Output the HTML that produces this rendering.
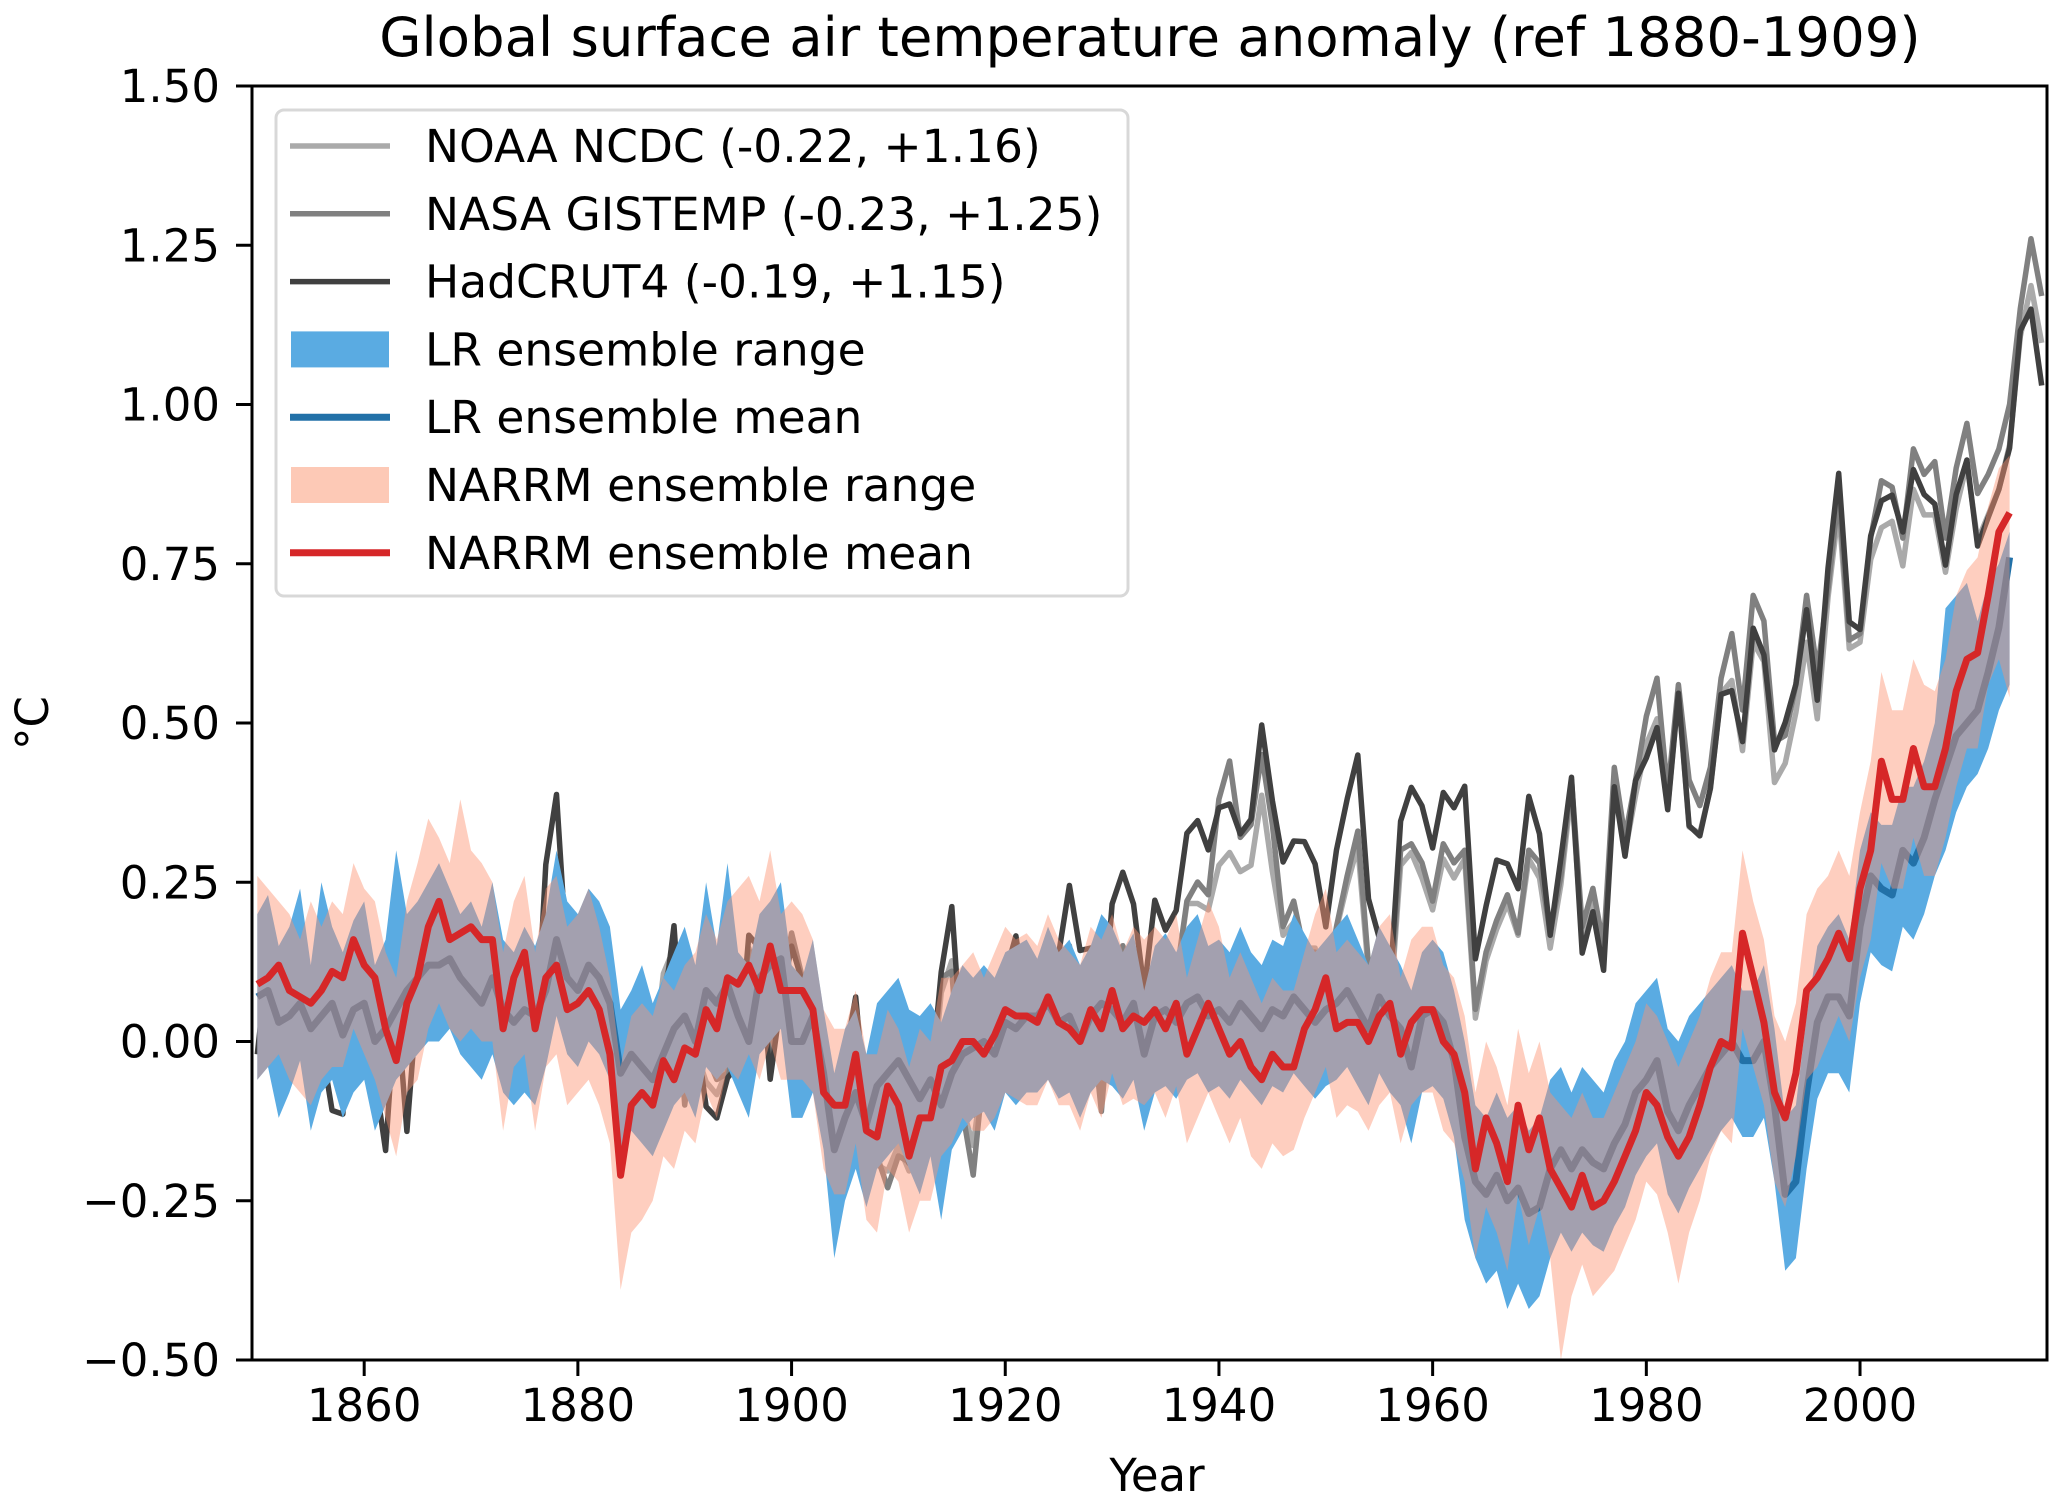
<!DOCTYPE html>
<html><head><meta charset="utf-8">
<style>
html,body{margin:0;padding:0;background:#fff;}
svg{display:block;font-family:"DejaVu Sans","Liberation Sans",sans-serif;}
</style></head>
<body>
<svg id="chart" xmlns="http://www.w3.org/2000/svg" width="2067" height="1508" viewBox="0 0 2067 1508">
<rect x="0" y="0" width="2067" height="1508" fill="#fff"/>
<text x="1150" y="56" font-size="54.5" text-anchor="middle" fill="#000">Global surface air temperature anomaly (ref 1880-1909)</text>
<g id="plot"></g>
<g id="axes"></g>
<text x="1157" y="1491" font-size="45" text-anchor="middle" fill="#000">Year</text>
<text x="0" y="0" font-size="45" text-anchor="middle" fill="#000" transform="translate(48,723) rotate(-90)">°C</text>
<g id="legend"></g>
</svg>
<script>
const hadStart = 1850;
const hadRaw = [-0.373,-0.218,-0.228,-0.269,-0.248,-0.272,-0.358,-0.461,-0.467,-0.284,
-0.343,-0.407,-0.524,-0.278,-0.494,-0.279,-0.251,-0.321,-0.238,-0.262,
-0.276,-0.335,-0.227,-0.304,-0.368,-0.395,-0.384,-0.075,0.035,-0.230,
-0.227,-0.200,-0.213,-0.296,-0.409,-0.389,-0.367,-0.418,-0.307,-0.171,
-0.416,-0.330,-0.455,-0.473,-0.410,-0.390,-0.186,-0.206,-0.412,-0.289,
-0.203,-0.259,-0.402,-0.479,-0.520,-0.377,-0.283,-0.465,-0.511,-0.522,
-0.490,-0.544,-0.437,-0.424,-0.244,-0.141,-0.383,-0.468,-0.333,-0.275,
-0.247,-0.187,-0.302,-0.276,-0.294,-0.215,-0.108,-0.210,-0.206,-0.350,
-0.137,-0.087,-0.137,-0.273,-0.131,-0.178,-0.147,-0.026,-0.006,-0.052,
0.014,0.020,-0.027,-0.004,0.144,0.025,-0.071,-0.038,-0.039,-0.074,
-0.173,-0.052,0.028,0.097,-0.129,-0.190,-0.267,-0.007,0.046,0.017,
-0.049,0.038,0.014,0.048,-0.223,-0.140,-0.068,-0.074,-0.113,0.032,
-0.027,-0.186,-0.065,0.062,-0.214,-0.149,-0.241,0.047,-0.062,0.057,
0.092,0.140,0.011,0.194,-0.014,-0.030,0.045,0.192,0.198,0.118,
0.296,0.254,0.105,0.148,0.208,0.325,0.183,0.390,0.539,0.306,
0.294,0.441,0.496,0.505,0.447,0.545,0.506,0.491,0.395,0.506,
0.560,0.425,0.470,0.514,0.579,0.763,0.797,0.677];
const obsStart = 1880;
const gissRaw = [-0.16,-0.08,-0.10,-0.16,-0.28,-0.33,-0.31,-0.36,-0.17,-0.10,
-0.35,-0.22,-0.27,-0.31,-0.30,-0.22,-0.11,-0.11,-0.27,-0.17,
-0.08,-0.15,-0.28,-0.37,-0.47,-0.26,-0.22,-0.39,-0.43,-0.48,
-0.43,-0.44,-0.36,-0.34,-0.15,-0.14,-0.36,-0.46,-0.29,-0.27,
-0.27,-0.19,-0.28,-0.26,-0.27,-0.22,-0.10,-0.22,-0.20,-0.36,
-0.16,-0.10,-0.16,-0.29,-0.13,-0.20,-0.15,-0.03,0.00,-0.02,
0.13,0.19,0.07,0.09,0.20,0.09,-0.07,-0.03,-0.11,-0.11,
-0.17,-0.07,0.01,0.08,-0.13,-0.14,-0.19,0.05,0.06,0.03,
-0.03,0.06,0.03,0.05,-0.20,-0.11,-0.06,-0.02,-0.08,0.05,
0.03,-0.08,0.01,0.16,-0.07,-0.01,-0.10,0.18,0.07,0.16,
0.26,0.32,0.14,0.31,0.16,0.12,0.18,0.32,0.39,0.27,
0.45,0.41,0.22,0.23,0.31,0.45,0.33,0.46,0.61,0.38,
0.39,0.54,0.63,0.62,0.54,0.68,0.64,0.66,0.54,0.65,
0.72,0.61,0.64,0.68,0.75,0.90,1.01,0.92];
const noaaRaw = [-0.12,-0.09,-0.10,-0.18,-0.27,-0.25,-0.24,-0.28,-0.13,-0.09,
-0.32,-0.25,-0.30,-0.32,-0.28,-0.23,-0.09,-0.12,-0.27,-0.15,
-0.07,-0.15,-0.25,-0.37,-0.45,-0.28,-0.21,-0.37,-0.43,-0.44,
-0.40,-0.44,-0.33,-0.34,-0.16,-0.11,-0.34,-0.40,-0.27,-0.27,
-0.25,-0.18,-0.28,-0.26,-0.25,-0.21,-0.09,-0.20,-0.19,-0.33,
-0.14,-0.10,-0.16,-0.29,-0.14,-0.19,-0.14,-0.02,-0.02,-0.03,
0.04,0.06,0.03,0.04,0.15,0.03,-0.07,-0.05,-0.09,-0.09,
-0.18,-0.06,0.01,0.07,-0.13,-0.14,-0.19,0.04,0.06,0.02,
-0.03,0.05,0.02,0.05,-0.20,-0.11,-0.06,-0.02,-0.07,0.05,
0.02,-0.09,0.01,0.16,-0.08,-0.01,-0.11,0.17,0.06,0.15,
0.23,0.27,0.13,0.31,0.10,0.09,0.16,0.31,0.33,0.22,
0.39,0.36,0.17,0.20,0.28,0.39,0.27,0.46,0.60,0.38,
0.39,0.52,0.57,0.58,0.51,0.63,0.59,0.59,0.50,0.60,
0.67,0.55,0.59,0.63,0.70,0.87,0.95,0.86];
const modelStart = 1850;
const lrMean = [0.07,0.08,0.03,0.04,0.06,0.02,0.04,0.06,0.01,0.05,
0.06,0.00,0.02,0.05,0.08,0.10,0.12,0.12,0.13,0.10,
0.08,0.06,0.10,0.05,0.03,0.05,0.04,0.08,0.16,0.10,
0.08,0.12,0.10,0.06,-0.05,-0.02,-0.04,-0.06,-0.02,0.02,
0.04,0.00,0.08,0.06,0.09,0.04,0.00,0.10,0.12,0.13,
0.00,0.00,0.04,-0.05,-0.17,-0.12,-0.08,-0.13,-0.07,-0.05,
-0.03,-0.06,-0.09,-0.06,-0.10,-0.05,-0.02,-0.01,0.00,-0.02,
0.03,0.02,0.04,0.04,0.06,0.03,0.04,0.00,0.04,0.06,
0.05,0.03,0.06,-0.02,0.04,0.05,0.03,0.06,0.07,0.04,
0.05,0.03,0.06,0.04,0.02,0.05,0.04,0.07,0.05,0.03,
0.05,0.06,0.08,0.05,0.02,0.07,0.04,0.02,-0.04,0.04,
0.05,0.03,-0.03,-0.15,-0.22,-0.24,-0.21,-0.25,-0.23,-0.27,
-0.26,-0.20,-0.17,-0.20,-0.17,-0.19,-0.20,-0.16,-0.13,-0.08,
-0.06,-0.03,-0.11,-0.14,-0.10,-0.07,-0.04,-0.02,0.00,-0.03,
-0.03,0.00,-0.10,-0.24,-0.22,-0.08,0.03,0.07,0.07,0.04,
0.18,0.26,0.24,0.23,0.30,0.28,0.32,0.38,0.43,0.48,
0.50,0.52,0.58,0.65,0.76];
const lrHi = [0.20,0.23,0.15,0.18,0.24,0.12,0.25,0.18,0.14,0.19,
0.22,0.12,0.16,0.30,0.20,0.22,0.25,0.28,0.24,0.20,
0.22,0.18,0.25,0.16,0.14,0.18,0.15,0.20,0.30,0.22,
0.20,0.24,0.22,0.18,0.05,0.08,0.12,0.06,0.10,0.14,
0.18,0.12,0.25,0.15,0.28,0.14,0.12,0.20,0.22,0.25,
0.12,0.10,0.16,0.05,-0.05,0.02,0.05,-0.02,0.06,0.08,
0.10,0.05,0.04,0.06,0.03,0.08,0.12,0.10,0.12,0.10,
0.14,0.15,0.16,0.13,0.18,0.14,0.16,0.12,0.15,0.20,
0.18,0.14,0.17,0.08,0.15,0.17,0.14,0.18,0.20,0.15,
0.16,0.14,0.18,0.14,0.12,0.16,0.15,0.20,0.17,0.14,
0.16,0.18,0.20,0.16,0.12,0.18,0.15,0.12,0.08,0.14,
0.16,0.14,0.08,0.00,-0.10,-0.12,-0.08,-0.12,-0.10,-0.14,
-0.12,-0.06,-0.04,-0.08,-0.04,-0.06,-0.08,-0.03,0.00,0.06,
0.08,0.10,0.02,0.00,0.04,0.06,0.08,0.10,0.12,0.08,
0.08,0.12,0.02,-0.12,-0.10,0.04,0.15,0.18,0.20,0.16,
0.30,0.36,0.34,0.34,0.40,0.40,0.44,0.50,0.68,0.70,
0.72,0.66,0.72,0.75,0.80];
const lrLo = [-0.06,-0.04,-0.12,-0.08,-0.03,-0.14,-0.08,-0.06,-0.12,-0.08,
-0.06,-0.14,-0.10,-0.06,-0.04,-0.02,0.00,0.00,0.02,-0.02,
-0.04,-0.06,-0.02,-0.08,-0.10,-0.08,-0.10,-0.04,0.04,-0.02,
-0.04,0.00,-0.02,-0.06,-0.18,-0.14,-0.16,-0.18,-0.14,-0.10,
-0.08,-0.12,-0.04,-0.06,-0.04,-0.08,-0.12,-0.02,0.00,0.02,
-0.12,-0.12,-0.08,-0.17,-0.34,-0.25,-0.20,-0.26,-0.20,-0.18,
-0.16,-0.20,-0.24,-0.18,-0.28,-0.17,-0.14,-0.12,-0.11,-0.14,
-0.08,-0.10,-0.08,-0.08,-0.06,-0.09,-0.08,-0.12,-0.08,-0.06,
-0.07,-0.09,-0.06,-0.14,-0.08,-0.07,-0.09,-0.06,-0.05,-0.08,
-0.07,-0.09,-0.06,-0.08,-0.10,-0.07,-0.08,-0.05,-0.07,-0.09,
-0.07,-0.06,-0.04,-0.07,-0.10,-0.05,-0.08,-0.10,-0.16,-0.08,
-0.07,-0.09,-0.15,-0.28,-0.34,-0.38,-0.36,-0.42,-0.38,-0.42,
-0.40,-0.34,-0.30,-0.33,-0.30,-0.32,-0.33,-0.29,-0.26,-0.21,
-0.18,-0.16,-0.24,-0.27,-0.23,-0.20,-0.17,-0.14,-0.12,-0.15,
-0.15,-0.12,-0.22,-0.36,-0.34,-0.20,-0.09,-0.05,-0.05,-0.08,
0.06,0.14,0.12,0.11,0.18,0.16,0.20,0.26,0.30,0.36,
0.40,0.42,0.46,0.52,0.56];
const narrmMean = [0.09,0.10,0.12,0.08,0.07,0.06,0.08,0.11,0.10,0.16,
0.12,0.10,0.02,-0.03,0.06,0.10,0.18,0.22,0.16,0.17,
0.18,0.16,0.16,0.02,0.10,0.14,0.02,0.10,0.12,0.05,
0.06,0.08,0.05,-0.02,-0.21,-0.10,-0.08,-0.10,-0.03,-0.06,
-0.01,-0.02,0.05,0.02,0.10,0.09,0.12,0.08,0.15,0.08,
0.08,0.08,0.05,-0.08,-0.10,-0.10,-0.02,-0.14,-0.15,-0.07,
-0.10,-0.18,-0.12,-0.12,-0.04,-0.03,0.00,0.00,-0.02,0.01,
0.05,0.04,0.04,0.03,0.07,0.03,0.02,0.00,0.05,0.02,
0.08,0.02,0.04,0.03,0.05,0.02,0.06,-0.02,0.02,0.06,
0.02,-0.02,0.00,-0.04,-0.06,-0.02,-0.04,-0.04,0.02,0.05,
0.10,0.02,0.03,0.03,0.00,0.04,0.06,-0.02,0.03,0.05,
0.05,0.00,-0.02,-0.08,-0.20,-0.12,-0.16,-0.22,-0.10,-0.17,
-0.12,-0.20,-0.23,-0.26,-0.21,-0.26,-0.25,-0.22,-0.18,-0.14,
-0.08,-0.10,-0.15,-0.18,-0.15,-0.10,-0.04,0.00,-0.01,0.17,
0.10,0.03,-0.08,-0.12,-0.05,0.08,0.10,0.13,0.17,0.13,
0.24,0.30,0.44,0.38,0.38,0.46,0.40,0.40,0.46,0.55,
0.60,0.61,0.70,0.80,0.83];
const narrmHi = [0.26,0.24,0.22,0.20,0.16,0.22,0.18,0.22,0.20,0.28,
0.24,0.22,0.14,0.10,0.22,0.28,0.35,0.32,0.28,0.38,
0.30,0.28,0.25,0.14,0.22,0.26,0.14,0.24,0.26,0.18,
0.20,0.24,0.18,0.10,-0.04,0.04,0.06,0.04,0.10,0.08,
0.12,0.14,0.20,0.16,0.22,0.24,0.26,0.22,0.30,0.20,
0.22,0.20,0.16,0.05,0.02,0.02,0.08,-0.02,-0.02,0.05,
0.02,-0.04,0.02,0.00,0.10,0.10,0.12,0.14,0.10,0.14,
0.18,0.16,0.17,0.15,0.20,0.16,0.14,0.12,0.18,0.16,
0.20,0.14,0.18,0.16,0.18,0.16,0.20,0.10,0.16,0.22,
0.18,0.10,0.14,0.10,0.06,0.10,0.08,0.08,0.14,0.20,
0.24,0.14,0.16,0.14,0.12,0.18,0.20,0.10,0.16,0.18,
0.18,0.12,0.10,0.04,-0.08,0.00,-0.04,-0.10,0.02,-0.05,
0.00,-0.08,-0.10,-0.12,-0.08,-0.12,-0.12,-0.08,-0.04,0.00,
0.06,0.04,0.00,-0.04,0.00,0.04,0.10,0.14,0.14,0.30,
0.22,0.16,0.04,0.00,0.06,0.20,0.24,0.26,0.30,0.26,
0.36,0.44,0.58,0.52,0.52,0.60,0.56,0.55,0.60,0.70,
0.74,0.76,0.84,0.90,0.92];
const narrmLo = [-0.06,-0.04,-0.02,-0.06,-0.08,-0.10,-0.06,-0.04,-0.04,0.02,
-0.02,-0.06,-0.12,-0.18,-0.08,-0.06,0.02,0.06,0.02,0.00,
0.02,0.00,0.00,-0.14,-0.04,-0.02,-0.14,-0.04,-0.02,-0.10,
-0.08,-0.06,-0.10,-0.16,-0.39,-0.30,-0.28,-0.25,-0.18,-0.20,
-0.14,-0.16,-0.08,-0.12,-0.04,-0.06,-0.02,-0.06,0.00,-0.06,
-0.06,-0.06,-0.08,-0.20,-0.24,-0.24,-0.16,-0.28,-0.30,-0.20,
-0.22,-0.30,-0.25,-0.25,-0.18,-0.16,-0.12,-0.14,-0.14,-0.12,
-0.08,-0.09,-0.10,-0.10,-0.06,-0.10,-0.10,-0.14,-0.08,-0.12,
-0.05,-0.10,-0.09,-0.10,-0.08,-0.12,-0.07,-0.16,-0.12,-0.08,
-0.12,-0.16,-0.12,-0.18,-0.20,-0.16,-0.18,-0.17,-0.12,-0.08,
-0.04,-0.12,-0.10,-0.11,-0.14,-0.10,-0.08,-0.16,-0.10,-0.08,
-0.08,-0.14,-0.16,-0.22,-0.34,-0.26,-0.30,-0.36,-0.24,-0.32,
-0.26,-0.34,-0.50,-0.40,-0.35,-0.40,-0.38,-0.36,-0.32,-0.28,
-0.22,-0.24,-0.30,-0.38,-0.30,-0.25,-0.18,-0.14,-0.16,0.02,
-0.04,-0.10,-0.22,-0.26,-0.18,-0.06,-0.04,0.00,0.04,0.00,
0.10,0.16,0.28,0.24,0.24,0.32,0.26,0.26,0.32,0.40,
0.46,0.46,0.56,0.60,0.54];
const xTicks = [1860,1880,1900,1920,1940,1960,1980,2000];
const yTicks = [-0.50,-0.25,0.00,0.25,0.50,0.75,1.00,1.25,1.50];
const legendLabels = ["NOAA NCDC (-0.22, +1.16)","NASA GISTEMP (-0.23, +1.25)","HadCRUT4 (-0.19, +1.15)","LR ensemble range","LR ensemble mean","NARRM ensemble range","NARRM ensemble mean"];

const L=252,R=2047,T=86,B=1360, X0=1849.5,X1=2017.5, Y0=-0.5,Y1=1.5;
const xs = v => L + (v-X0)/(X1-X0)*(R-L);
const ys = v => B - (v-Y0)/(Y1-Y0)*(B-T);
const NS="http://www.w3.org/2000/svg";
const plot=document.getElementById('plot');
function mk(tag,attrs,parent){const e=document.createElementNS(NS,tag);for(const k in attrs)e.setAttribute(k,attrs[k]);parent.appendChild(e);return e;}

const defs=mk('defs',{},plot);
const cp=mk('clipPath',{id:'clip'},defs);
mk('rect',{x:L,y:T,width:R-L,height:B-T},cp);
const g=mk('g',{'clip-path':'url(#clip)'},plot);

function refMean(arr,start){let s=0,n=0;for(let i=0;i<arr.length;i++){const yr=start+i;if(yr>=1880&&yr<=1909){s+=arr[i];n++;}}return s/n;}
function lineD(arr,start,off){return arr.map((v,i)=>(i?'L':'M')+xs(start+i).toFixed(1)+','+ys(v-off).toFixed(1)).join('');}
function bandD(lo,hi,start){let d='';hi.forEach((v,i)=>{d+=(i?'L':'M')+xs(start+i).toFixed(1)+','+ys(v).toFixed(1);});for(let i=lo.length-1;i>=0;i--){d+='L'+xs(start+i).toFixed(1)+','+ys(lo[i]).toFixed(1);}return d+'Z';}

let e;
e=mk('path',{d:lineD(noaaRaw,obsStart,refMean(noaaRaw,obsStart)),fill:'none',stroke:'#aaaaaa','stroke-width':5.5,'stroke-linejoin':'round'},g);


e=mk('path',{d:lineD(gissRaw,obsStart,refMean(gissRaw,obsStart)),fill:'none',stroke:'#808080','stroke-width':5.5,'stroke-linejoin':'round'},g);


e=mk('path',{d:lineD(hadRaw,hadStart,refMean(hadRaw,hadStart)),fill:'none',stroke:'#404040','stroke-width':5.5,'stroke-linejoin':'round'},g);


e=mk('path',{d:bandD(lrLo,lrHi,modelStart),fill:'#5aabe2',stroke:'none'},g);


e=mk('path',{d:lineD(lrMean,modelStart,0),fill:'none',stroke:'#2271a8','stroke-width':7,'stroke-linejoin':'round'},g);


e=mk('path',{d:bandD(narrmLo,narrmHi,modelStart),fill:'#fc9272','fill-opacity':0.45,stroke:'none'},g);


e=mk('path',{d:lineD(narrmMean,modelStart,0),fill:'none',stroke:'#d62728','stroke-width':7,'stroke-linejoin':'round'},g);



const ax=document.getElementById('axes');
e=mk('rect',{x:L,y:T,width:R-L,height:B-T,fill:'none',stroke:'#000','stroke-width':3},ax);


xTicks.forEach(t=>{
  const x=xs(t);
  const tk=mk('line',{x1:x,y1:B,x2:x,y2:B+16,stroke:'#000','stroke-width':3},ax);
  
  
  const tx=mk('text',{x:x,y:B+61,'font-size':45,'text-anchor':'middle',fill:'#000'},ax);
  tx.textContent=String(t);
  
  
});
yTicks.forEach(t=>{
  const y=ys(t);
  const tk=mk('line',{x1:L-16,y1:y,x2:L,y2:y,stroke:'#000','stroke-width':3},ax);
  
  
  const tx=mk('text',{x:L-32,y:y+16,'font-size':45,'text-anchor':'end',fill:'#000'},ax);
  tx.textContent=(t<0?'\u2212':'')+Math.abs(t).toFixed(2);
  
  
});

const lg=document.getElementById('legend');
e=mk('rect',{x:276,y:110,width:852,height:486,rx:8,fill:'#fff','fill-opacity':0.85,stroke:'#d8d8d8','stroke-width':3},lg);


const lgStyles=[['line','#aaaaaa'],['line','#808080'],['line','#404040'],['patch','#5aabe2'],['line','#2271a8'],['patch','#fdc9b6'],['line','#d62728']];
legendLabels.forEach((lab,i)=>{
  const cy=146+i*67.8;
  const [kind,col]=lgStyles[i];
  let h;
  if(kind==='line'){h=mk('line',{x1:290,y1:cy,x2:390,y2:cy,stroke:col,'stroke-width':i===4||i===6?7:5.5},lg);}
  else{h=mk('rect',{x:291,y:cy-18,width:98,height:36,fill:col},lg);}
  
  
  const tx=mk('text',{x:425,y:cy+16,'font-size':45.5,fill:'#000'},lg);
  tx.textContent=lab;
  
  
});
</script>
</body></html>
